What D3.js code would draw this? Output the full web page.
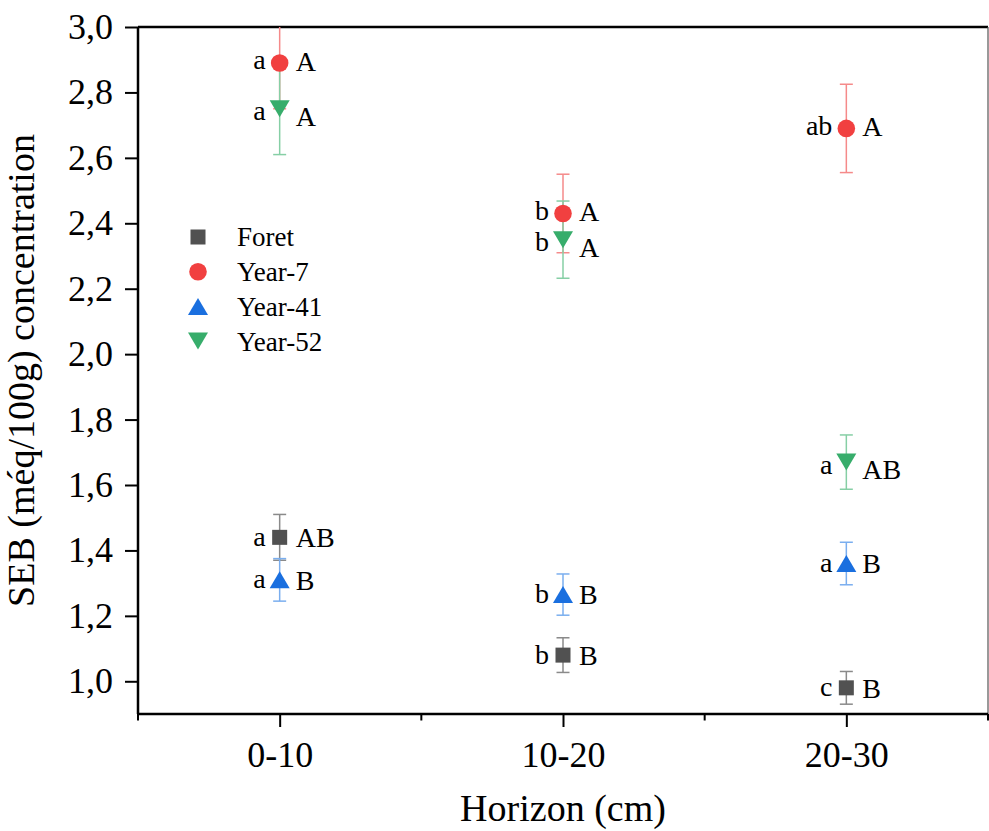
<!DOCTYPE html>
<html>
<head>
<meta charset="utf-8">
<script src="https://cdn.jsdelivr.net/npm/d3@7"></script>
<style>
  body { margin: 0; background: #fff; }
  svg { font-family: "Liberation Serif", "Times New Roman", serif; }
</style>
</head>
<body>
<svg id="chart" width="989" height="831"></svg>
<script>
// horizons on the x axis
const categories = ['0-10', '10-20', '20-30'];
const seriesNames = ['Foret', 'Year-7', 'Year-41', 'Year-52'];

// mean values and error (±) per horizon
const foretMean = [1.44, 1.08, 0.98];
const foretErr = [0.07, 0.053, 0.05];
const year7Mean = [2.89, 2.43, 2.69];
const year7Err = [0.14, 0.12, 0.135];
const year41Mean = [1.31, 1.265, 1.36];
const year41Err = [0.065, 0.063, 0.065];
const year52Mean = [2.75, 2.35, 1.67];
const year52Err = [0.14, 0.118, 0.083];

// significance letters (lowercase left, uppercase right)
const foretLow = ['a', 'b', 'c'], foretUp = ['AB', 'B', 'B'];
const year7Low = ['a', 'b', 'ab'], year7Up = ['A', 'A', 'A'];
const year41Low = ['a', 'b', 'a'], year41Up = ['B', 'B', 'B'];
const year52Low = ['a', 'b', 'a'], year52Up = ['A', 'A', 'AB'];

const yTicks = [1.0, 1.2, 1.4, 1.6, 1.8, 2.0, 2.2, 2.4, 2.6, 2.8, 3.0];

const colors = ['#515151', '#F14040', '#1A6FDF', '#37AD6B'];
const errColors = ['#8a8a8a', '#f58a8a', '#7aaeef', '#86cfa5'];
const shapes = ['square', 'circle', 'up', 'down'];

const series = [
  {mean: foretMean, err: foretErr, low: foretLow, up: foretUp},
  {mean: year7Mean, err: year7Err, low: year7Low, up: year7Up},
  {mean: year41Mean, err: year41Err, low: year41Low, up: year41Up},
  {mean: year52Mean, err: year52Err, low: year52Low, up: year52Up}
].map((s, i) => Object.assign(s, {name: seriesNames[i], color: colors[i], errColor: errColors[i], shape: shapes[i]}));

const m = {left: 138, right: 988, top: 27, bottom: 714};

const svg = d3.select('#chart');

let x = d3.scalePoint()
  .domain(categories)
  .range([m.left, m.right])
  .padding(0.5);

let y = d3.scaleLinear()
  .domain([0.9, 3.0])
  .range([m.bottom, m.top]);

function marker(sel, shape, cx, cy) {
  if (shape === 'square') {
    sel.append('rect').attr('x', cx - 7.5).attr('y', cy - 7.5).attr('width', 15).attr('height', 15);
  } else if (shape === 'circle') {
    sel.append('circle').attr('cx', cx).attr('cy', cy).attr('r', 8.8);
  } else if (shape === 'up') {
    sel.append('path').attr('d', `M${cx - 10},${cy + 8.5}L${cx + 10},${cy + 8.5}L${cx},${cy - 8.5}Z`);
  } else {
    sel.append('path').attr('d', `M${cx - 10},${cy - 8.5}L${cx + 10},${cy - 8.5}L${cx},${cy + 8.5}Z`);
  }
}

// frame: top and right
svg.append('line').attr('x1', m.left).attr('x2', m.right).attr('y1', m.top).attr('y2', m.top)
  .attr('stroke', '#000').attr('stroke-width', 2.5);
svg.append('line').attr('x1', m.right).attr('x2', m.right).attr('y1', m.top).attr('y2', m.bottom)
  .attr('stroke', '#555').attr('stroke-width', 1.2);

// y axis
let yAxis = svg.append('g')
  .attr('transform', `translate(${m.left},0)`)
  .call(d3.axisLeft(y).tickValues(yTicks).tickSize(13).tickPadding(12)
    .tickFormat(d => d3.format('.1f')(d).replace('.', ',')));
yAxis.select('.domain').attr('d', `M0,${m.top}V${m.bottom}`);

// x axis: major at categories, minor between
let xAxis = svg.append('g')
  .attr('transform', `translate(0,${m.bottom})`)
  .call(d3.axisBottom(x).tickSize(13).tickPadding(14));
xAxis.select('.domain').attr('d', `M${m.left},0H${m.right}`);

let step = x.step();
let minor = [m.left, m.left + step, m.left + 2 * step, m.right];
xAxis.selectAll('.minor').data(minor).enter().append('line')
  .attr('class', 'minor')
  .attr('x1', d => d).attr('x2', d => d)
  .attr('y1', 0).attr('y2', 6.5)
  .attr('stroke', '#000').attr('stroke-width', 2);

svg.selectAll('.tick line').attr('stroke', '#000').attr('stroke-width', 2);
svg.selectAll('.domain').attr('stroke', '#000').attr('stroke-width', 2.5);
svg.selectAll('.tick text')
  .attr('font-family', '"Liberation Serif", serif')
  .attr('font-size', 36)
  .attr('fill', '#000');

// axis titles
svg.append('text')
  .attr('transform', `translate(34,${(m.top + m.bottom) / 2}) rotate(-90)`)
  .attr('text-anchor', 'middle')
  .attr('font-size', 38)
  .text('SEB (méq/100g) concentration');

svg.append('text')
  .attr('x', (m.left + m.right) / 2)
  .attr('y', 821)
  .attr('text-anchor', 'middle')
  .attr('font-size', 38)
  .text('Horizon (cm)');

// clip for error bars
svg.append('clipPath').attr('id', 'plotClip')
  .append('rect').attr('x', m.left).attr('y', m.top).attr('width', m.right - m.left).attr('height', m.bottom - m.top);

let plot = svg.append('g').attr('clip-path', 'url(#plotClip)');

// error bars first, then markers on top
series.forEach(s => {
  let g = plot.append('g').attr('class', 'err').attr('stroke', s.errColor).attr('stroke-width', 1.5);
  categories.forEach((c, i) => {
    let cx = x(c), y0 = y(s.mean[i] - s.err[i]), y1 = y(s.mean[i] + s.err[i]);
    g.append('line').attr('x1', cx).attr('x2', cx).attr('y1', y0).attr('y2', y1);
    g.append('line').attr('x1', cx - 6.5).attr('x2', cx + 6.5).attr('y1', y0).attr('y2', y0);
    g.append('line').attr('x1', cx - 6.5).attr('x2', cx + 6.5).attr('y1', y1).attr('y2', y1);
  });
});

series.forEach(s => {
  let g = svg.append('g').attr('class', 'pts').attr('fill', s.color);
  categories.forEach((c, i) => marker(g, s.shape, x(c), y(s.mean[i])));
});

// letters
series.forEach(s => {
  let g = svg.append('g').attr('class', 'letters').attr('font-size', 28).attr('fill', '#000');
  let shift = s.shape === 'down' ? 3 : (s.shape === 'circle' ? -2 : 0);
  categories.forEach((c, i) => {
    let cx = x(c), cy = y(s.mean[i]) + shift;
    g.append('text').attr('x', cx - 14).attr('y', cy).attr('dy', '0.3em')
      .attr('text-anchor', 'end').text(s.low[i]);
    g.append('text').attr('x', cx + 16).attr('y', cy).attr('dy', s.shape === 'down' ? '0.5em' : '0.35em')
      .attr('text-anchor', 'start').text(s.up[i]);
  });
});

// legend
let legend = svg.append('g').attr('class', 'legend');
series.forEach((s, i) => {
  let ly = 237 + i * 34.7;
  let g = legend.append('g').attr('fill', s.color);
  marker(g, s.shape, 198, ly);
  legend.append('text').attr('x', 237).attr('y', ly).attr('dy', '0.35em')
    .attr('font-size', 27).attr('fill', '#000').text(s.name);
});
</script>
</body>
</html>
